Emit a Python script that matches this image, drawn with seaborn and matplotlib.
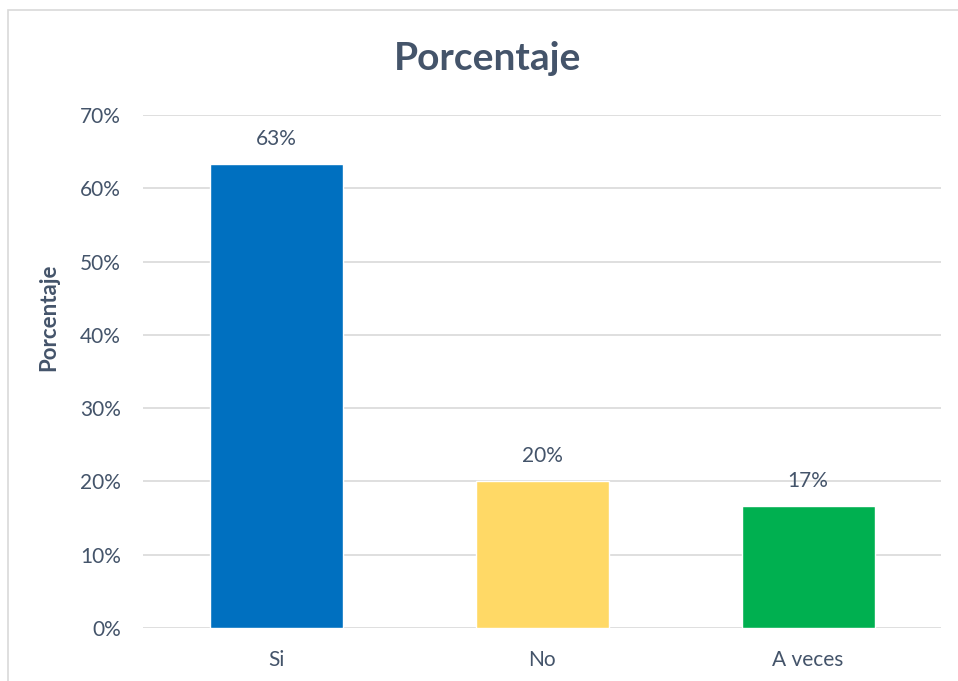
import matplotlib
matplotlib.use("Agg")
import matplotlib.pyplot as plt
import seaborn as sns
import pandas as pd
from matplotlib.patches import Rectangle

categories = ["Si", "No", "A veces"]
values = [0.6333, 0.20, 0.1667]
labels = ["63%", "20%", "17%"]
colors = ["#0070C0", "#FFD966", "#00B050"]
yticks = [0, 0.1, 0.2, 0.3, 0.4, 0.5, 0.6, 0.7]
ytick_labels = ["0%", "10%", "20%", "30%", "40%", "50%", "60%", "70%"]

sns.set_theme(style="white")
plt.rcParams['font.family'] = ['Lato', 'DejaVu Sans']
text_color = "#44546A"

df = pd.DataFrame({"cat": categories, "val": values})

fig = plt.figure(figsize=(9.58, 6.81), dpi=100)
ax = fig.add_axes([143/958, 1-628/681, (941-143)/958, (628-115)/681])

sns.barplot(data=df, x="cat", y="val", hue="cat", palette=colors, width=0.5,
            ax=ax, legend=False, saturation=1)

ax.set_ylim(0, 0.7)
ax.set_xlim(-0.5, 2.5)
ax.set_yticks(yticks)
ax.set_yticklabels(ytick_labels)
ax.yaxis.grid(True, color="#D9D9D9", linewidth=1.2)
ax.set_axisbelow(True)
for s in ax.spines.values():
    s.set_visible(False)
ax.tick_params(axis='both', length=0, labelsize=15, labelcolor=text_color)
ax.tick_params(axis='y', pad=16)
ax.tick_params(axis='x', pad=16)
ax.set_xlabel("")
ax.set_ylabel("Porcentaje", fontsize=16, fontweight="bold", color=text_color)
ax.yaxis.set_label_coords(-0.105, 0.606)

for i, (v, lab) in enumerate(zip(values, labels)):
    ax.annotate(lab, (i, v), xytext=(0, 11), textcoords="offset points",
                ha="center", va="bottom", fontsize=15, color=text_color)

fig.text(488/958, 1-58/681, "Porcentaje", ha="center", va="center",
         fontsize=28, fontweight="bold", color=text_color)

fig.patches.append(Rectangle((8/958, -0.1), 1.1, 1-10/681+0.1, transform=fig.transFigure,
                             fill=False, edgecolor="#D9D9D9", linewidth=1.2, zorder=-1))

fig.savefig("out.png", dpi=100)
